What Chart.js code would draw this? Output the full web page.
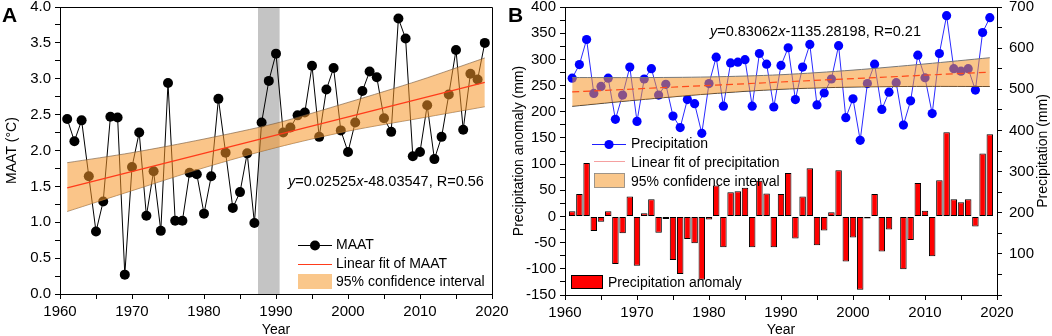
<!DOCTYPE html>
<html><head><meta charset="utf-8">
<script src="https://cdn.jsdelivr.net/npm/chart.js@4.4.1/dist/chart.umd.min.js"></script>
<style>
html,body{margin:0;padding:0;background:#fff;width:1052px;height:336px;overflow:hidden}
#ca{position:absolute;left:0;top:0}
#cb{position:absolute;left:505px;top:0}
</style></head><body>
<canvas id="ca" width="520" height="336"></canvas>
<canvas id="cb" width="547" height="336"></canvas>
<script>
// ---------------- DATA ----------------
const years = [1961,1962,1963,1964,1965,1966,1967,1968,1969,1970,
  1971,1972,1973,1974,1975,1976,1977,1978,1979,1980,
  1981,1982,1983,1984,1985,1986,1987,1988,1989,1990,
  1991,1992,1993,1994,1995,1996,1997,1998,1999,2000,
  2001,2002,2003,2004,2005,2006,2007,2008,2009,2010,
  2011,2012,2013,2014,2015,2016,2017,2018,2019];
const maat = [2.44,2.13,2.42,1.64,0.87,1.29,2.47,2.46,0.27,1.77,
  2.25,1.09,1.71,0.88,2.94,1.02,1.02,1.69,1.67,1.12,
  1.64,2.72,1.97,1.20,1.42,1.96,0.99,2.39,2.97,3.35,
  2.25,2.32,2.49,2.53,3.18,2.19,2.85,3.15,2.28,1.98,
  2.39,2.83,3.10,3.02,2.45,2.26,3.84,3.56,1.92,1.98,
  2.63,1.88,2.19,2.78,3.40,2.29,3.07,2.99,3.50];
const fitYears = [1961, 2019];
const maatFit = [1.48, 2.95];
const bandYears = [1961,1970,1980,1990,2000,2010,2019];
const maatUpper = [1.83,1.97,2.16,2.38,2.67,2.98,3.29];
const maatLower = [1.15,1.44,1.76,2.04,2.27,2.45,2.61];
const shadedYears = [1987.5, 1990.5];

const precipitation = [527,560,621,490,507,527,427,486,554,422,
  525,550,486,512,435,407,475,465,393,514,
  578,459,564,566,572,459,587,561,457,558,
  601,475,554,609,462,491,525,606,431,477,
  376,514,561,451,493,516,413,472,583,528,
  441,587,679,550,544,550,498,638,674];
const anomaly = [10,43,102,-28,-10,10,-91,-32,38,-94,
  6,33,-31,-5,-83,-110,-43,-51,-121,-6,
  59,-59,46,48,55,-59,68,44,-59,43,
  83,-42,38,92,-55,-27,8,88,-86,-40,
  -140,-4,43,-67,-25,-1,-101,-45,64,11,
  -76,69,161,33,27,33,-19,120,157];
const precipFit = [493.6, 541.7];
const precipUpper = [528.6,528.4,530.0,535.4,546.6,561.6,576.7];
const precipLower = [458.6,473.8,488.8,500.0,505.4,507.0,506.7];

const yearTicks = [1960,1970,1980,1990,2000,2010,2020];
const maatTicks = ['0.0','0.5','1.0','1.5','2.0','2.5','3.0','3.5','4.0'];
const anomalyTicks = [-150,-100,-50,0,50,100,150,200,250,300,350,400];
const precipTicks = [100,200,300,400,500,600,700];

// ---------------- HELPERS ----------------
const FONT = "'Liberation Sans', Arial, Helvetica, sans-serif";
Chart.defaults.font.family = FONT;
Chart.defaults.color = '#000';
const xy = (xs, ys) => xs.map((x, i) => ({x: x, y: ys[i]}));
function zeroPad(s){ s.paddingTop = 0; s.paddingBottom = 0; s.paddingLeft = 0; s.paddingRight = 0; }
const gridOpts = {drawOnChartArea:false, drawTicks:true, tickLength:5, color:'#000', lineWidth:1};
const borderOpts = {display:true, color:'#000', width:1};

function xScale(h){
  return {type:'linear', min:1960, max:2020, offset:false,
    ticks:{stepSize:5, autoSkip:false, maxRotation:0, padding:4, font:{size:15}, color:'#000',
      callback: v => yearTicks.includes(v) ? String(v) : ''},
    grid: Object.assign({}, gridOpts, {offset:false}), border: borderOpts,
    title:{display:true, text:'Year', color:'#000', font:{size:14, lineHeight:1}, padding:{top:0, bottom:-1}},
    afterFit: s => { s.height = h; zeroPad(s); }};
}
function richText(ctx, x, y, parts, size){
  ctx.save();
  ctx.textBaseline = 'middle'; ctx.textAlign = 'left'; ctx.fillStyle = '#000';
  for (const [t, it] of parts){
    ctx.font = (it ? 'italic ' : '') + size + 'px ' + FONT;
    ctx.fillText(t, x, y);
    x += ctx.measureText(t).width;
  }
  ctx.restore();
}
function legendText(ctx, t, x, y){
  ctx.save(); ctx.font = '14px ' + FONT; ctx.fillStyle = '#000';
  ctx.textBaseline = 'middle'; ctx.textAlign = 'left'; ctx.fillText(t, x, y); ctx.restore();
}
function panelLabel(ctx, t, x, y){
  ctx.save(); ctx.font = 'bold 21px ' + FONT; ctx.fillStyle = '#000';
  ctx.textBaseline = 'alphabetic'; ctx.fillText(t, x, y); ctx.restore();
}
const BAND = 'rgba(245,150,40,0.55)';
const BAND_SWATCH = '#fac78b';

// ---------------- PANEL A ----------------
const plugA = {
  id: 'plugA',
  beforeDatasetsDraw(chart){
    const {ctx, chartArea:a, scales:{x}} = chart;
    const x0 = x.getPixelForValue(shadedYears[0]), x1 = x.getPixelForValue(shadedYears[1]);
    ctx.save(); ctx.fillStyle = '#c4c4c4'; ctx.fillRect(x0, a.top, x1 - x0, a.bottom - a.top); ctx.restore();
  },
  afterDraw(chart){
    const {ctx, chartArea:a} = chart;
    ctx.save(); ctx.strokeStyle = '#000'; ctx.lineWidth = 1;
    ctx.beginPath(); ctx.moveTo(a.left, a.top + 0.5); ctx.lineTo(a.right + 0.5, a.top + 0.5); ctx.lineTo(a.right + 0.5, a.bottom); ctx.stroke();
    ctx.restore();
    panelLabel(ctx, 'A', 2, 22);
    richText(ctx, 288, 182, [['y',1],['=0.02525',0],['x',1],['-48.03547, R=0.56',0]], 14.5);
    // legend
    ctx.save();
    ctx.strokeStyle = '#000'; ctx.lineWidth = 1;
    ctx.beginPath(); ctx.moveTo(298, 245.5); ctx.lineTo(332, 245.5); ctx.stroke();
    ctx.fillStyle = '#000'; ctx.beginPath(); ctx.arc(315, 245.5, 5, 0, Math.PI*2); ctx.fill();
    ctx.strokeStyle = '#ff3b1a'; ctx.lineWidth = 1;
    ctx.beginPath(); ctx.moveTo(298, 264.5); ctx.lineTo(332, 264.5); ctx.stroke();
    ctx.fillStyle = BAND_SWATCH; ctx.fillRect(298, 274, 34, 15);
    ctx.restore();
    legendText(ctx, 'MAAT', 336, 245);
    legendText(ctx, 'Linear fit of MAAT', 336, 264);
    legendText(ctx, '95% confidence interval', 336, 282);
  }
};

new Chart(document.getElementById('ca'), {
  type: 'line',
  data: {datasets: [
    {label:'Linear fit of MAAT', data: xy(fitYears, maatFit), borderColor:'#ff3b1a', borderWidth:1.3, pointRadius:0},
    {label:'upper', data: xy(bandYears, maatUpper), borderColor:'rgba(120,90,60,0.8)', borderWidth:0.8, pointRadius:0, tension:0.3, fill:'+1', backgroundColor: BAND},
    {label:'lower', data: xy(bandYears, maatLower), borderColor:'rgba(120,90,60,0.8)', borderWidth:0.8, pointRadius:0, tension:0.3},
    {label:'MAAT', data: xy(years, maat), borderColor:'#000', borderWidth:1, pointRadius:5, pointBackgroundColor:'#000', pointBorderWidth:0}
  ]},
  options: {
    responsive:false, animation:false, events:[],
    layout:{padding:{top:7, right:28, left:0, bottom:0}},
    plugins:{legend:{display:false}, tooltip:{enabled:false}},
    scales:{
      x: xScale(42),
      y: {type:'linear', min:0, max:4,
        ticks:{stepSize:0.25, autoSkip:false, padding:4, font:{size:15}, color:'#000',
          callback: v => { const s = v.toFixed(2); const t = (+v).toFixed(1); return (maatTicks.includes(t) && Math.abs(+s - +t) < 1e-6) ? t : ''; }},
        grid: gridOpts, border: borderOpts,
        title:{display:true, text:'MAAT (\u00B0C)', color:'#000', font:{size:14}, padding:{top:3.6, bottom:0}},
        afterFit: s => { s.width = 60; zeroPad(s); }}
    }
  },
  plugins:[plugA]
});

// ---------------- PANEL B ----------------
const plugB = {
  id: 'plugB',
  afterDraw(chart){
    const {ctx, chartArea:a} = chart;
    ctx.save(); ctx.strokeStyle = '#000'; ctx.lineWidth = 1;
    ctx.beginPath(); ctx.moveTo(a.left, a.top + 0.5); ctx.lineTo(a.right + 0.5, a.top + 0.5); ctx.stroke();
    ctx.restore();
    panelLabel(ctx, 'B', 3, 22);
    richText(ctx, 205, 32, [['y',1],['=0.83062',0],['x',1],['-1135.28198, R=0.21',0]], 14.5);
    // right axis title
    ctx.save(); ctx.translate(538, 151); ctx.rotate(-Math.PI/2);
    ctx.font = '14px ' + FONT; ctx.fillStyle = '#000'; ctx.textAlign = 'center'; ctx.textBaseline = 'middle';
    ctx.fillText('Precipitation (mm)', 0, 0); ctx.restore();
    // legend
    const L = 505;
    ctx.save();
    ctx.strokeStyle = '#1f1fff'; ctx.lineWidth = 1;
    ctx.beginPath(); ctx.moveTo(592 - L, 144.5); ctx.lineTo(626 - L, 144.5); ctx.stroke();
    ctx.fillStyle = '#0000ff'; ctx.beginPath(); ctx.arc(609 - L, 144.5, 4.6, 0, Math.PI*2); ctx.fill();
    ctx.strokeStyle = '#f5a0a0'; ctx.lineWidth = 1;
    ctx.beginPath(); ctx.moveTo(594 - L, 161.5); ctx.lineTo(625 - L, 161.5); ctx.stroke();
    ctx.fillStyle = BAND_SWATCH; ctx.fillRect(594 - L, 173, 31, 15);
    ctx.strokeStyle = '#888'; ctx.lineWidth = 0.8; ctx.strokeRect(594 - L + 0.5, 173.5, 30, 14);
    ctx.fillStyle = '#ff0000'; ctx.fillRect(571 - L, 275, 32, 14);
    ctx.strokeStyle = '#000'; ctx.lineWidth = 1; ctx.strokeRect(571 - L + 0.5, 275.5, 31, 13);
    ctx.restore();
    legendText(ctx, 'Precipitation', 631 - L, 144);
    legendText(ctx, 'Linear fit of precipitation', 631 - L, 163);
    legendText(ctx, '95% confidence interval', 631 - L, 182);
    legendText(ctx, 'Precipitation anomaly', 608 - L, 283);
  }
};

new Chart(document.getElementById('cb'), {
  type: 'bar',
  data: {datasets: [
    {type:'line', label:'Linear fit of precipitation', data: xy(fitYears, precipFit), yAxisID:'y1', borderColor:'#ff4a1a', borderWidth:1.2, borderDash:[7,4], pointRadius:0},
    {type:'line', label:'upper', data: xy(bandYears, precipUpper), yAxisID:'y1', borderColor:'#777', borderWidth:1, pointRadius:0, tension:0.3, fill:'+1', backgroundColor: BAND},
    {type:'line', label:'lower', data: xy(bandYears, precipLower), yAxisID:'y1', borderColor:'#333', borderWidth:1, pointRadius:0, tension:0.3},
    {type:'line', label:'Precipitation', data: xy(years, precipitation), yAxisID:'y1', borderColor:'#2a2aff', borderWidth:1, pointRadius:4.6, pointBackgroundColor:'#0000ff', pointBorderWidth:0},
    {type:'bar', label:'Precipitation anomaly', data: xy(years, anomaly), yAxisID:'y', backgroundColor:'#ff0000', borderColor:'#000', borderWidth:1, borderSkipped:false, barPercentage:0.9, categoryPercentage:1.0}
  ]},
  options: {
    responsive:false, animation:false, events:[],
    layout:{padding:{top:7, right:0, left:0, bottom:0}},
    plugins:{legend:{display:false}, tooltip:{enabled:false}},
    scales:{
      x: xScale(41),
      y: {type:'linear', position:'left', min:-150, max:400,
        ticks:{stepSize:25, autoSkip:false, padding:4, font:{size:15}, color:'#000',
          callback: v => anomalyTicks.includes(v) ? String(v) : ''},
        grid: gridOpts, border: borderOpts,
        title:{display:true, text:'Precipitation anomaly (mm)', color:'#000', font:{size:14}, padding:{top:5.6, bottom:0}},
        afterFit: s => { s.width = 60; zeroPad(s); }},
      y1: {type:'linear', position:'right', min:0, max:700,
        ticks:{stepSize:50, autoSkip:false, padding:7, font:{size:15}, color:'#000',
          callback: v => precipTicks.includes(v) ? String(v) : ''},
        grid: gridOpts, border: borderOpts,
        afterFit: s => { s.width = 55; zeroPad(s); }}
    }
  },
  plugins:[plugB]
});
</script>
</body></html>
